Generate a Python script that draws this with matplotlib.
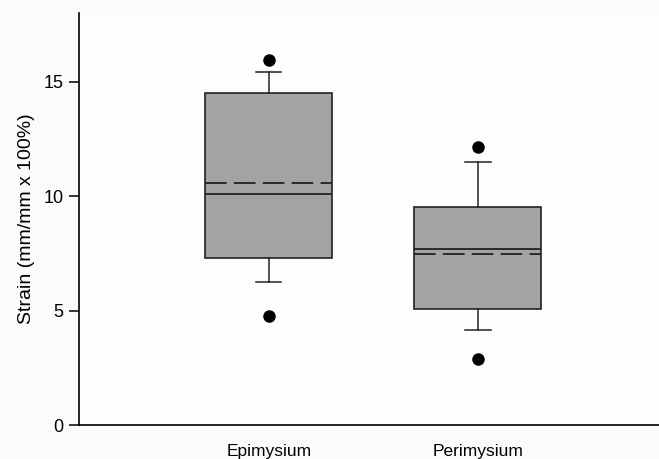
import matplotlib.pyplot as plt

# values
groups = ['Epimysium', 'Perimysium']
q1 = [7.30, 5.07]
q3 = [14.49, 9.51]
medians = [10.08, 7.68]
means = [10.58, 7.49]
whisk_lo = [6.28, 4.18]
whisk_hi = [15.41, 11.48]
outliers = [[15.94, 4.78], [12.16, 2.90]]

plt.rcParams['font.family'] = ['Liberation Sans', 'DejaVu Sans']

fig = plt.figure(figsize=(6.59, 4.59), dpi=100)
fig.patch.set_facecolor('#fbfbfb')
ax = fig.add_axes([0.12, 0.073, 0.88, 0.899])
ax.set_facecolor('#fdfdfd')

stats = []
for i in range(len(groups)):
    stats.append({'label': groups[i], 'q1': q1[i], 'q3': q3[i], 'med': medians[i],
                  'mean': means[i], 'whislo': whisk_lo[i], 'whishi': whisk_hi[i],
                  'fliers': outliers[i]})

ax.bxp(stats, positions=[1, 2], widths=0.607, patch_artist=True,
       showmeans=True, meanline=True, showfliers=True,
       boxprops=dict(facecolor='#a3a3a3', edgecolor='#222222', linewidth=1.2),
       medianprops=dict(color='#222222', linewidth=1.3),
       meanprops=dict(color='#222222', linewidth=1.3, linestyle=(0, (12, 4))),
       whiskerprops=dict(color='#222222', linewidth=1.1),
       capprops=dict(color='#222222', linewidth=1.1),
       capwidths=0.12,
       flierprops=dict(marker='o', markerfacecolor='black', markeredgecolor='black', markersize=8))

ax.set_xlim(0.094, 2.865)
ax.set_ylim(0, 18)
ax.set_yticks([0, 5, 10, 15])
ax.set_ylabel('Strain (mm/mm x 100%)', fontsize=14, labelpad=6)
ax.tick_params(axis='y', labelsize=13, length=7, width=1.1, direction='out', pad=4)
ax.tick_params(axis='x', labelsize=12.5, length=0, pad=13)
for s in ['top', 'right']:
    ax.spines[s].set_visible(False)
ax.spines['left'].set_linewidth(1.2)
ax.spines['bottom'].set_linewidth(1.2)

fig.savefig('out.png', dpi=100, facecolor=fig.get_facecolor())
